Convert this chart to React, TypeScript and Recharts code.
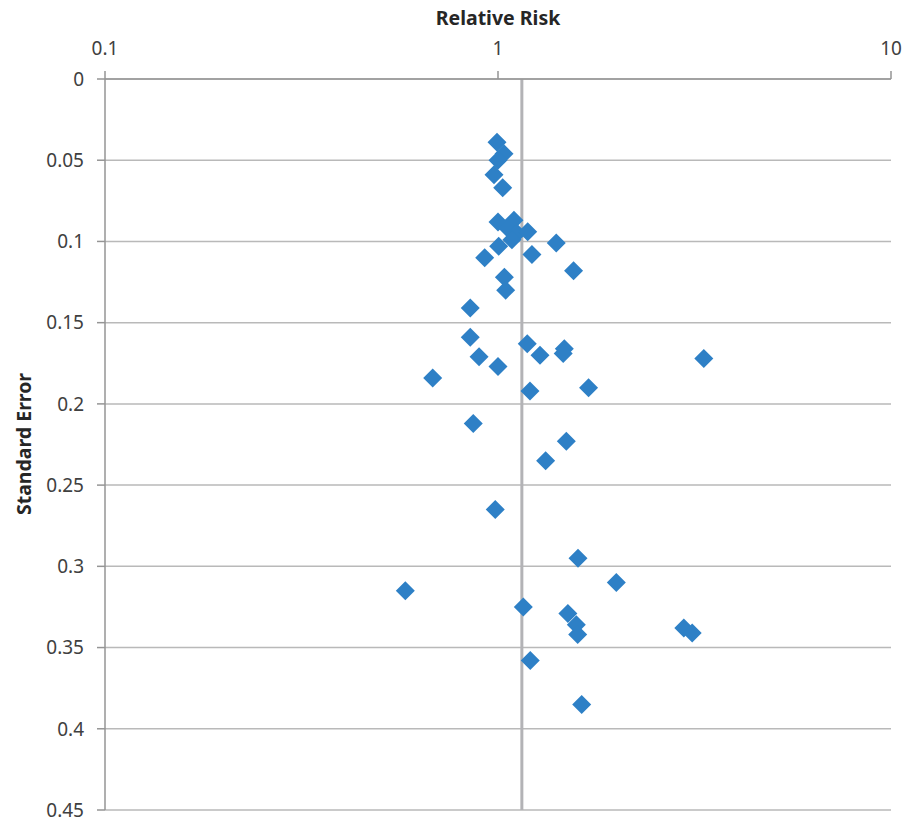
import React from "react";
import {
  ScatterChart,
  Scatter,
  XAxis,
  YAxis,
  CartesianGrid,
  ReferenceLine,
  Label,
} from "recharts";

// relative risk (x, log scale) and standard error (y, reversed) per study
const relativeRisk = [
  0.994, 1.036, 1.0, 0.977, 1.028, 1.0, 1.098, 1.06, 1.118, 1.085, 1.19, 1.407,
  1.004, 0.925, 1.22, 1.557, 1.038, 1.046, 0.85, 0.85, 1.187, 1.279, 1.475,
  1.465, 0.895, 1.0, 0.682, 1.206, 1.7, 3.34, 0.865, 1.492, 1.322, 0.984, 1.598,
  2.0, 0.581, 1.16, 1.506, 1.582, 1.595, 2.97, 3.12, 1.208, 1.633,
];
const standardError = [
  0.039, 0.046, 0.05, 0.059, 0.067, 0.088, 0.087, 0.092, 0.095, 0.099, 0.094,
  0.101, 0.103, 0.11, 0.108, 0.118, 0.122, 0.13, 0.141, 0.159, 0.163, 0.17,
  0.166, 0.169, 0.171, 0.177, 0.184, 0.192, 0.19, 0.172, 0.212, 0.223, 0.235,
  0.265, 0.295, 0.31, 0.315, 0.325, 0.329, 0.336, 0.342, 0.338, 0.341, 0.358,
  0.385,
];
const xTicks = [0.1, 1, 10];
const yTicks = [0, 0.05, 0.1, 0.15, 0.2, 0.25, 0.3, 0.35, 0.4, 0.45];
const pooledEstimate = 1.15;

const data = relativeRisk.map((rr, i) => ({ rr, se: standardError[i] }));

const FONT = "'Noto Sans', 'Open Sans', sans-serif";
const AXIS = "#959595";
const GRID = "#b9b9b9";
const BLUE = "#2E80C6";

const Diamond = (props: any) => {
  const { cx, cy } = props;
  if (cx == null || cy == null) return null;
  const r = 9.5;
  return (
    <polygon
      points={`${cx},${cy - r} ${cx + r},${cy} ${cx},${cy + r} ${cx - r},${cy}`}
      fill={BLUE}
    />
  );
};

const tickStyle = { fontFamily: FONT, fontSize: 19, fill: "#404040" };

export default function App() {
  // pinned to the page corner so the body margin doesn't push it around
  return (
    <div style={{ position: "absolute", top: 0, left: 0 }}>
      <ScatterChart
        width={919}
        height={823}
        margin={{ top: 8, right: 28, bottom: 13, left: 8 }}
      >
        <CartesianGrid
          vertical={false}
          stroke={GRID}
          strokeWidth={1.5}
          horizontalValues={yTicks}
        />
        <XAxis
          dataKey="rr"
          type="number"
          scale="log"
          domain={[0.1, 10]}
          ticks={xTicks}
          interval={0}
          allowDataOverflow
          orientation="top"
          height={71}
          tickSize={8}
          tickMargin={16}
          tick={tickStyle}
          tickFormatter={(v: number) => String(v)}
          stroke={AXIS}
          strokeWidth={1.5}
        >
          <Label
            content={() => (
              <text
                x={498}
                y={25}
                textAnchor="middle"
                fontFamily={FONT}
                fontSize={19.5}
                fontWeight="bold"
                fill="#262626"
              >
                Relative Risk
              </text>
            )}
          />
        </XAxis>
        <YAxis
          dataKey="se"
          type="number"
          domain={[0, 0.45]}
          ticks={yTicks}
          interval={0}
          reversed
          allowDataOverflow
          width={97}
          tickSize={8}
          tickMargin={13}
          tick={tickStyle}
          tickFormatter={(v: number) => String(v)}
          stroke={AXIS}
          strokeWidth={1.5}
        >
          <Label
            content={() => (
              <text
                x={31}
                y={444}
                transform="rotate(-90 31 444)"
                textAnchor="middle"
                fontFamily={FONT}
                fontSize={19.5}
                fontWeight="bold"
                fill="#262626"
              >
                Standard Error
              </text>
            )}
          />
        </YAxis>
        <ReferenceLine x={pooledEstimate} stroke="#b3b3b6" strokeWidth={3} />
        <Scatter data={data} shape={Diamond} isAnimationActive={false} />
      </ScatterChart>
    </div>
  );
}
